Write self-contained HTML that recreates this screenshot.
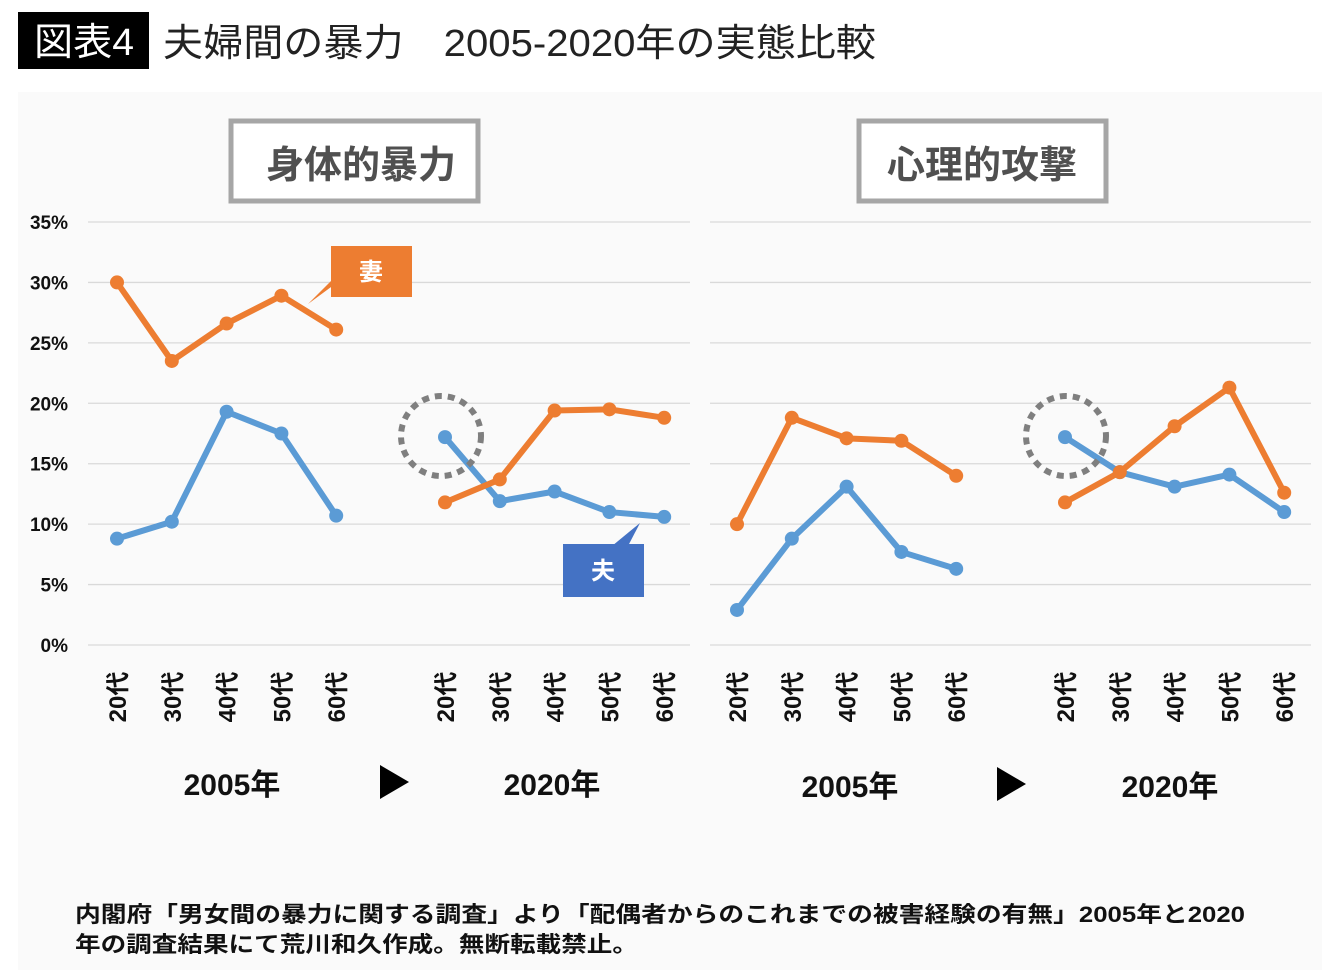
<!DOCTYPE html>
<html><head><meta charset="utf-8">
<style>
body{margin:0;width:1340px;height:970px;background:#fff;overflow:hidden;font-family:"Liberation Sans","Noto Sans CJK JP",sans-serif;}
</style></head>
<body>
<svg width="1340" height="970" xmlns="http://www.w3.org/2000/svg" font-family="Liberation Sans, Noto Sans CJK JP, sans-serif">
<rect x="18" y="12" width="131" height="57" fill="#000"/>
<text x="34" y="55" fill="#fff" font-size="38" textLength="100" lengthAdjust="spacingAndGlyphs">図表4</text>
<text x="163" y="56" fill="#222" font-size="38" textLength="713" lengthAdjust="spacingAndGlyphs">夫婦間の暴力　2005-2020年の実態比較</text>
<rect x="18" y="92" width="1304" height="878" fill="#fafafa"/>
<rect x="231" y="121" width="247" height="80" fill="#fff" stroke="#a6a6a6" stroke-width="5"/>
<text x="361" y="178" fill="#505050" font-size="38" font-weight="bold" text-anchor="middle">身体的暴力</text>
<rect x="859" y="121" width="247" height="80" fill="#fff" stroke="#a6a6a6" stroke-width="5"/>
<text x="982" y="178" fill="#505050" font-size="38" font-weight="bold" text-anchor="middle">心理的攻撃</text>
<g id="grid"></g>
<g id="marks"></g>
<g id="labels"></g>
<polygon points="308,304 336,276 346,276" fill="#ed7d31"/>
<rect x="331" y="246" width="81" height="51" fill="#ed7d31"/>
<text x="371" y="280" fill="#fff" font-size="24" font-weight="bold" text-anchor="middle">妻</text>
<polygon points="640,523 612,546 628,546" fill="#4472c4"/>
<rect x="563" y="544" width="81" height="53" fill="#4472c4"/>
<text x="603" y="579" fill="#fff" font-size="24" font-weight="bold" text-anchor="middle">夫</text>
<circle cx="441" cy="436" r="40" fill="none" stroke="#7f7f7f" stroke-width="6" stroke-dasharray="7 6"/>
<circle cx="1066" cy="436" r="40" fill="none" stroke="#7f7f7f" stroke-width="6" stroke-dasharray="7 6"/>
<text x="232" y="795" font-size="30" font-weight="bold" fill="#111" text-anchor="middle">2005年</text>
<polygon points="380,765 380,799 409,782" fill="#000"/>
<text x="552" y="795" font-size="30" font-weight="bold" fill="#111" text-anchor="middle">2020年</text>
<text x="850" y="797" font-size="30" font-weight="bold" fill="#111" text-anchor="middle">2005年</text>
<polygon points="997,767 997,801 1026,784" fill="#000"/>
<text x="1170" y="797" font-size="30" font-weight="bold" fill="#111" text-anchor="middle">2020年</text>
<text x="75" y="922" font-size="22" font-weight="bold" fill="#111" textLength="1170" lengthAdjust="spacingAndGlyphs">内閣府「男女間の暴力に関する調査」より「配偶者からのこれまでの被害経験の有無」2005年と2020</text>
<text x="75" y="952" font-size="22" font-weight="bold" fill="#111" textLength="563" lengthAdjust="spacingAndGlyphs">年の調査結果にて荒川和久作成。無断転載禁止。</text>
</svg>
<script>
const ticks=[0,5,10,15,20,25,30,35];
const ages=["20代","30代","40代","50代","60代"];
const phys2005Wife=[30.0,23.5,26.6,28.9,26.1];
const phys2005Husband=[8.8,10.2,19.3,17.5,10.7];
const phys2020Wife=[11.8,13.7,19.4,19.5,18.8];
const phys2020Husband=[17.2,11.9,12.7,11.0,10.6];
const psy2005Wife=[10.0,18.8,17.1,16.9,14.0];
const psy2005Husband=[2.9,8.8,13.1,7.7,6.3];
const psy2020Wife=[11.8,14.3,18.1,21.3,12.6];
const psy2020Husband=[17.2,14.3,13.1,14.1,11.0];
const NS="http://www.w3.org/2000/svg";
function y(v){return 645-v*(423/35);}
function groupX(g,i){return [117,445,737,1065][g]+i*54.8;}
function mk(tag,attrs,parent){const e=document.createElementNS(NS,tag);for(const k in attrs)e.setAttribute(k,attrs[k]);document.getElementById(parent).appendChild(e);return e;}
ticks.forEach(t=>{
  let l=mk('line',{x1:88,x2:690,y1:y(t),y2:y(t),stroke:'#d9d9d9','stroke-width':1.3},'grid');
  
  
  let r=mk('line',{x1:710,x2:1311,y1:y(t),y2:y(t),stroke:'#d9d9d9','stroke-width':1.3},'grid');
  
  
  let tx=mk('text',{x:68,y:y(t)+7,'font-size':19,'font-weight':'bold','text-anchor':'end',fill:'#111'},'labels');
  tx.textContent=t+'%';
  
  
});
for(let g=0;g<4;g++){ages.forEach((a,i)=>{
  const x=groupX(g,i);
  let tx=mk('text',{x:0,y:0,'font-size':24,'font-weight':'bold',fill:'#111','text-anchor':'middle',transform:`translate(${x+9},${697}) rotate(-90)`},'labels');
  tx.textContent=a;
  
  
});}
const series=[[phys2005Husband,0,'#5b9bd5','phys-2005-husband'],[phys2005Wife,0,'#ed7d31','phys-2005-wife'],[phys2020Husband,1,'#5b9bd5','phys-2020-husband'],[phys2020Wife,1,'#ed7d31','phys-2020-wife'],[psy2005Husband,2,'#5b9bd5','psy-2005-husband'],[psy2005Wife,2,'#ed7d31','psy-2005-wife'],[psy2020Husband,3,'#5b9bd5','psy-2020-husband'],[psy2020Wife,3,'#ed7d31','psy-2020-wife']];
series.forEach(([d,g,c,n])=>{
  const pts=d.map((v,i)=>groupX(g,i)+','+y(v)).join(' ');
  let pl=mk('polyline',{points:pts,fill:'none',stroke:c,'stroke-width':6,'stroke-linejoin':'round'},'marks');
  
  
  d.forEach((v,i)=>{
    let ci=mk('circle',{cx:groupX(g,i),cy:y(v),r:7,fill:c},'marks');
    
    
  });
});
</script>
</body></html>
